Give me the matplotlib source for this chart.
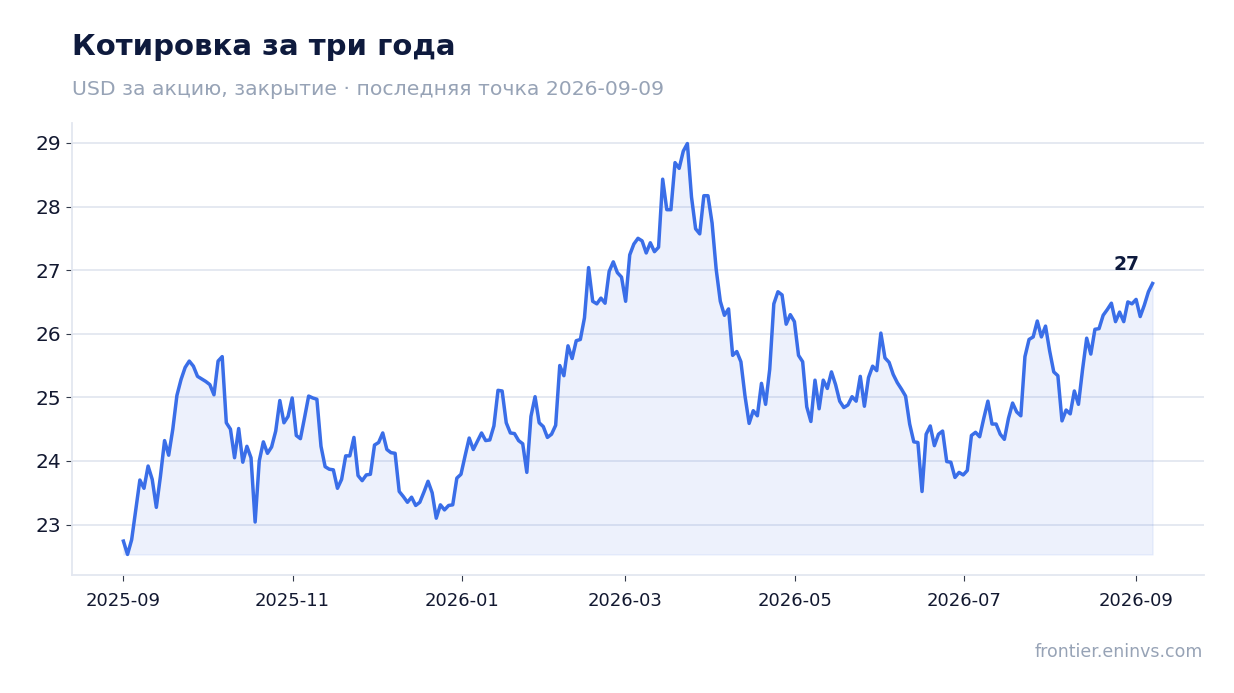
import matplotlib
matplotlib.use("Agg")
import matplotlib.pyplot as plt
import matplotlib.dates as mdates
import numpy as np
import pandas as pd

# closing price, USD per share (evenly spaced points)
prices = [
    22.74, 22.53, 22.76, 23.23, 23.70, 23.57, 23.92, 23.71, 23.27, 23.76,
    24.32, 24.09, 24.50, 25.03, 25.28, 25.47, 25.57, 25.49, 25.33, 25.29,
    25.25, 25.20, 25.04, 25.57, 25.64, 24.60, 24.50, 24.05, 24.51, 23.98,
    24.23, 24.05, 23.04, 24.00, 24.30, 24.12, 24.22, 24.47, 24.95, 24.60,
    24.70, 24.99, 24.40, 24.35,
    24.68, 25.02, 24.99, 24.97, 24.23, 23.91, 23.87, 23.86, 23.57, 23.71,
    24.08, 24.08, 24.37, 23.77, 23.69, 23.78, 23.79, 24.25, 24.29, 24.44,
    24.18, 24.13, 24.12, 23.52, 23.44, 23.35, 23.43, 23.30, 23.35, 23.51,
    23.68, 23.50, 23.10, 23.31, 23.23, 23.30, 23.31, 23.73, 23.79, 24.08,
    24.36, 24.18, 24.31, 24.44, 24.32, 24.33,
    24.55, 25.11, 25.10, 24.60, 24.44, 24.43, 24.32, 24.27, 23.82, 24.70,
    25.01, 24.60, 24.54, 24.37, 24.42, 24.56, 25.50, 25.34, 25.81, 25.61,
    25.89, 25.91, 26.25, 27.04, 26.51, 26.47, 26.56, 26.48, 26.98, 27.13,
    26.96, 26.89, 26.51, 27.24, 27.41, 27.50, 27.46, 27.27, 27.43, 27.29,
    27.36, 28.43, 27.95, 27.95, 28.69, 28.60,
    28.87, 28.99, 28.15, 27.65, 27.57, 28.17, 28.17, 27.74, 27.01, 26.51,
    26.29, 26.39, 25.66, 25.72, 25.56, 25.02, 24.59, 24.79, 24.71, 25.22,
    24.89, 25.44, 26.47, 26.66, 26.61, 26.15, 26.30, 26.19, 25.66, 25.56,
    24.85, 24.62, 25.27, 24.82, 25.27, 25.14, 25.40, 25.20, 24.94,
    24.84, 24.88, 25.01, 24.94, 25.33, 24.86, 25.31, 25.49, 25.42, 26.01,
    25.62, 25.55, 25.36, 25.23, 25.13, 25.02, 24.58, 24.30, 24.29, 23.52,
    24.42, 24.55, 24.24, 24.42, 24.47, 23.99, 23.98, 23.74, 23.82, 23.78,
    23.85, 24.40, 24.45, 24.38, 24.67, 24.94, 24.58, 24.58, 24.42, 24.34,
    24.67, 24.91, 24.77, 24.71,
    25.64, 25.91, 25.95, 26.20, 25.95, 26.12, 25.73, 25.40, 25.34, 24.63,
    24.80, 24.74, 25.10, 24.89, 25.44, 25.93, 25.68, 26.07, 26.08, 26.29,
    26.38, 26.48, 26.19, 26.34, 26.19, 26.50, 26.47, 26.54, 26.27, 26.45,
    26.66, 26.79,
]
start_date = "2025-09-01"
end_date = "2026-09-07"
dates = pd.date_range(start_date, end_date, periods=len(prices))

title = "Котировка за три года"
subtitle = "USD за акцию, закрытие · последняя точка 2026-09-09"
source = "frontier.eninvs.com"

line_c = "#3a6ee8"
navy = "#0e1a3d"
gray = "#97a3b6"
grid_c = "#e3e7f0"

fig = plt.figure(figsize=(12.34, 6.93), dpi=100)
ax = fig.add_axes([0.0583, 0.1703, 0.9174, 0.6522])

y = np.array(prices)
ax.fill_between(dates, y, y.min(), color=line_c, alpha=0.09)
ax.plot(dates, y, color=line_c, lw=2.5, solid_joinstyle="round")

ax.annotate(f"{y[-1]:.0f}", (dates[-1], y[-1]), xytext=(-19, 14),
            textcoords="offset points", ha="center", va="center",
            fontsize=13.5, fontweight="bold", color=navy)

ax.xaxis.set_major_locator(mdates.MonthLocator(bymonth=[1, 3, 5, 7, 9, 11]))
ax.xaxis.set_major_formatter(mdates.DateFormatter("%Y-%m"))
ax.set_yticks([23, 24, 25, 26, 27, 28, 29])

ax.grid(axis="y", color=grid_c, lw=1.3)
ax.set_axisbelow(True)
for s in ["top", "right"]:
    ax.spines[s].set_visible(False)
for s in ["left", "bottom"]:
    ax.spines[s].set_color(grid_c)
    ax.spines[s].set_linewidth(1.3)
ax.tick_params(axis="y", labelsize=14.5, colors="#333a4a", labelcolor="#121830", length=4)
ax.tick_params(axis="x", labelsize=13, colors="#333a4a", labelcolor="#121830", length=4, pad=8)

fig.text(0.0583, 0.9206, title, fontsize=21, fontweight="bold", color=navy, va="baseline")
fig.text(0.0583, 0.863, subtitle, fontsize=14.7, color=gray, va="baseline")
fig.text(0.975, 0.052, source, fontsize=12.5, color=gray, ha="right", va="baseline")

fig.savefig("out.png", dpi=100)
